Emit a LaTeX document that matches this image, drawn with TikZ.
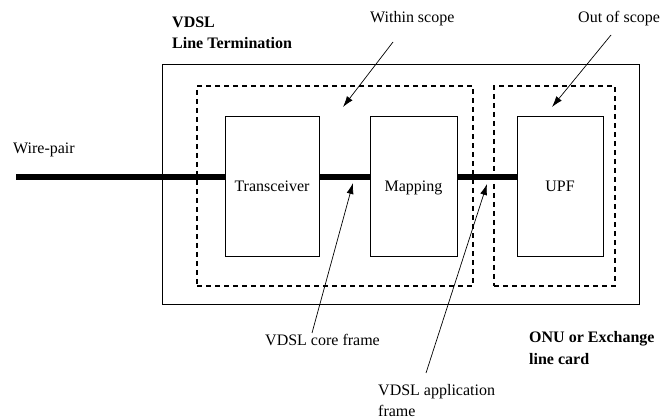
\documentclass[tikz,border=0pt]{standalone}
\usepackage{fontspec}
\setmainfont{Liberation Serif}
\usetikzlibrary{arrows.meta}
\begin{document}
\begin{tikzpicture}[x=1pt,y=-1pt,
  every node/.style={font=\fontsize{16}{21}\selectfont, inner sep=0pt},
  plainbox/.style={draw, line width=0.8pt},
  scopebox/.style={draw, line width=1.5pt, dash pattern=on 5pt off 4pt},
  blockbox/.style={draw, line width=0.8pt, minimum width=#1, minimum height=140pt},
  wire/.style={line width=6pt},
  pointer/.style={line width=0.7pt, -{Latex[length=11pt,width=7pt]}},
  lbl/.style={anchor=base west, align=left},
  boldlbl/.style={anchor=base west, align=left, font=\fontsize{16}{21}\selectfont\bfseries}]
\useasboundingbox (0,0) rectangle (661,419);

% outer box and scope boxes
\node[plainbox, minimum width=477pt, minimum height=240pt] (outer) at (400.5,184.5) {};
\node[scopebox, minimum width=276pt, minimum height=200pt] (scopeA) at (335,186) {};
\node[scopebox, minimum width=121pt, minimum height=200pt] (scopeB) at (554.5,186) {};

% blocks
\node[blockbox=94pt] (trx) at (272,186) {};
\node[blockbox=87pt] (map) at (413.5,186) {};
\node[blockbox=86pt] (upf) at (560,186) {};
\node[anchor=base] at (272,192) {Transceiver};
\node[anchor=base] at (413.5,192) {Mapping};
\node[anchor=base] at (560,192) {UPF};

% wire
\coordinate (wstart) at (16,177);
\draw[wire] (wstart) -- (trx.west |- wstart);
\draw[wire] (trx.east |- wstart) -- (map.west |- wstart);
\draw[wire] (map.east |- wstart) -- (upf.west |- wstart);

% labels (multi-line labels are placed by the baseline of their last line)
\node[lbl] (wp) at (13,154) {Wire-pair};
\node[boldlbl] (vdsl) at (172,49) {VDSL\\Line Termination};
\node[lbl] (within) at (370,23) {Within scope};
\node[lbl] (out) at (578,23) {Out of scope};
\node[lbl] (core) at (265,345) {VDSL core frame};
\node[lbl] (app) at (378,416) {VDSL application\\frame};
\node[boldlbl] (onu) at (529,364) {ONU or Exchange\\line card};

% pointer ends
\coordinate (withinS) at (393,42);
\coordinate (withinT) at (343,107);
\coordinate (outS) at (611,35);
\coordinate (outT) at (552,107);
\coordinate (coreS) at (312,333);
\coordinate (coreT) at (353,183);
\coordinate (appS) at (426,373);
\coordinate (appT) at (487,184);

\draw[pointer] (withinS) -- (withinT);
\draw[pointer] (outS) -- (outT);
\draw[pointer] (coreS) -- (coreT);
\draw[pointer] (appS) -- (appT);
\end{tikzpicture}
\end{document}
